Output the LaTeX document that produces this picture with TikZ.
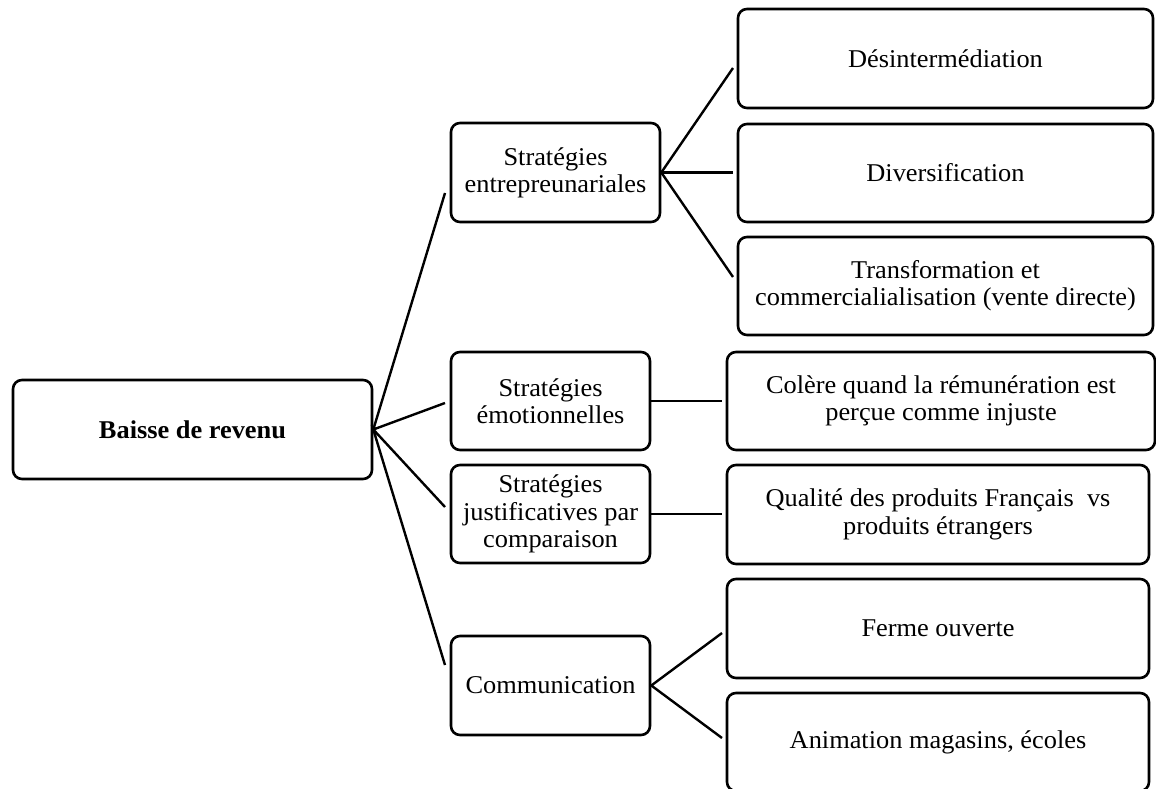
\documentclass[tikz,border=0pt]{standalone}
\usepackage{fontspec}
\setmainfont{Liberation Serif}[FakeStretch=1.03]
\begin{document}
\begin{tikzpicture}[x=1pt,y=-1pt,
  box/.style={draw=black, line width=2.6pt, rounded corners=9pt, inner sep=0pt, align=center,
    font=\fontsize{25.6pt}{27.3pt}\selectfont},
  link/.style={draw=black, line width=2.4pt}]
\useasboundingbox (0,0) rectangle (1156,789);
% nodes
\node[box, minimum width=359pt, minimum height=99pt] (base) at (192.5,429.5) {\bfseries Baisse de revenu};
\node[box, minimum width=209pt, minimum height=99pt] (se) at (555.5,172.5) {Stratégies\\entrepreunariales};
\node[box, minimum width=415pt, minimum height=99pt] (d1) at (945.5,58.5) {Désintermédiation};
\node[box, minimum width=415pt, minimum height=98pt] (d2) at (945.5,173) {Diversification};
\node[box, minimum width=415pt, minimum height=98pt] (d3) at (945.5,286) {Transformation et\\commercialialisation (vente directe)};
\node[box, minimum width=199pt, minimum height=98pt] (em) at (550.5,401) {Stratégies\\émotionnelles};
\node[box, minimum width=428pt, minimum height=98pt] (col) at (941,401) {Colère quand la rémunération est\\perçue comme injuste};
\node[box, minimum width=199pt, minimum height=98pt] (ju) at (550.5,514) {Stratégies\\justificatives par\\comparaison};
\node[box, minimum width=422pt, minimum height=99pt] (qu) at (938,514.5) {Qualité des produits Français\ \ vs\\produits étrangers};
\node[box, minimum width=199pt, minimum height=99pt] (co) at (550.5,685.5) {Communication};
\node[box, minimum width=422pt, minimum height=99pt] (fe) at (938,628.5) {Ferme ouverte};
\node[box, minimum width=422pt, minimum height=98pt] (an) at (938,742) {Animation magasins, écoles};
% free ends of connectors
\coordinate (b1) at (445,193);
\coordinate (b2) at (445,403);
\coordinate (b3) at (445,507);
\coordinate (b4) at (445,665);
\coordinate (s1) at (733,68);
\coordinate (s2) at (733,172.5);
\coordinate (s3) at (733,277);
\coordinate (e1) at (722,401);
\coordinate (j1) at (722,514);
\coordinate (c1) at (722,633);
\coordinate (c2) at (722,738);
% connectors
\draw[link] (b1) -- (base.east) -- (b2);
\draw[link] (b3) -- (base.east) -- (b4);
\draw[link] (s1) -- (se.east) -- (s3);
\draw[link] (se.east) -- (s2);
\draw[link] (em.east) -- (e1);
\draw[link] (ju.east) -- (j1);
\draw[link] (c1) -- (co.east) -- (c2);
\end{tikzpicture}
\end{document}
